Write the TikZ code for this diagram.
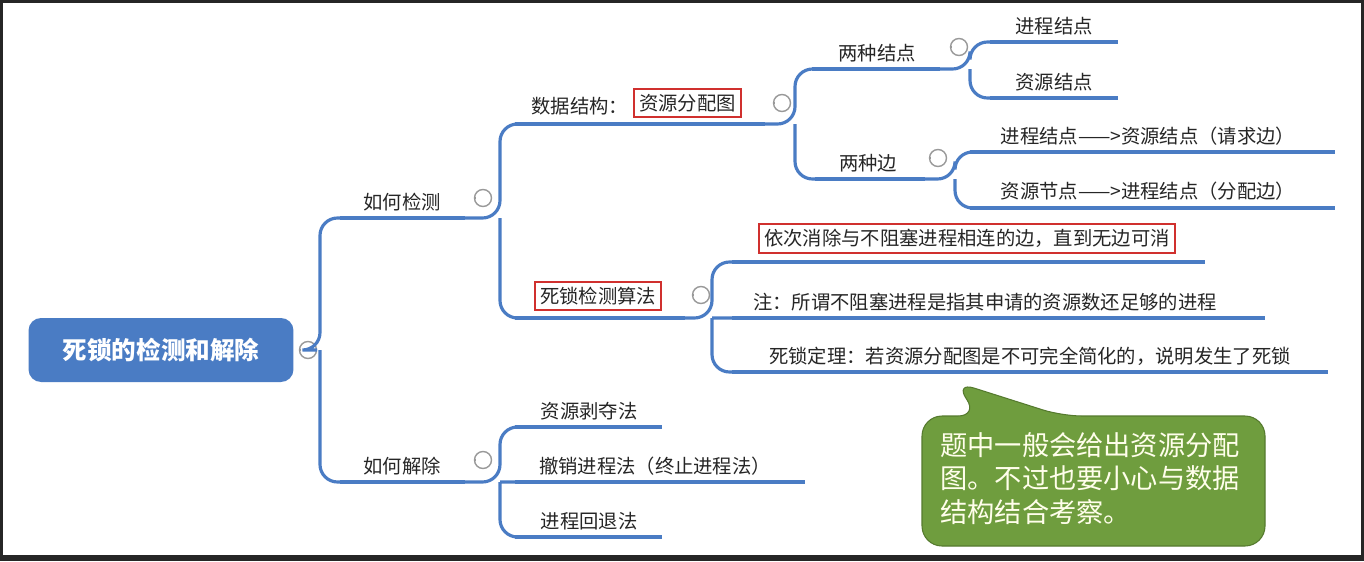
\documentclass[tikz,border=0pt]{standalone}
\usepackage{fontspec}
\setmainfont{Noto Sans CJK SC}
\usetikzlibrary{positioning}
\definecolor{mapblue}{HTML}{4A7CC4}
\definecolor{notegreen}{HTML}{6F9D3E}
\definecolor{noteedge}{HTML}{557A2E}
\definecolor{redbox}{HTML}{D0302E}
\tikzset{
  branch/.style={draw=mapblue,line width=1.8pt,rounded corners=0.35cm},
  topic/.style={font=\fontsize{11}{13}\selectfont,anchor=south,inner sep=2pt,text=black!85},
  fold/.style={circle,draw=gray!80,fill=white,line width=0.8pt,minimum size=0.34cm,inner sep=0pt,
    path picture={\draw[gray!80,line width=0.8pt](path picture bounding box.west)++(0.09,0)--++(0.16,0);}},
  redmark/.style={draw=redbox,line width=0.9pt,inner sep=3pt}
}
\begin{document}
\begin{tikzpicture}[x=0.02cm,y=-0.02cm]
\fill[black!85](0,0) rectangle (1364,561);
\fill[white](3,3) rectangle (1361,555);
\useasboundingbox (0,0) rectangle (1364,561);
% root
\node[fill=mapblue,rounded corners=0.25cm,minimum width=5.3cm,minimum height=1.28cm,text=white,
  font=\fontsize{14}{16}\selectfont\bfseries](root)at(161,350){死锁的检测和解除};
\node[fold](f0)at(308,350){};
% level 1
\coordinate(jc1)at(340,218);\coordinate(jc2)at(465,218);
\coordinate(jj1)at(340,482);\coordinate(jj2)at(465,482);
\draw[branch](f0.east)-|(320,218)--(jc1) (320,350)|-(jj1);
\draw[branch](jc1)--(jc2) (jj1)--(jj2);
\node[topic](jc)at(402,215){如何检测};
\node[topic](jj)at(402,479){如何解除};
\node[fold](f1)at(483,198){};
\node[fold](f2)at(483,460){};
% detection
\coordinate(sj1)at(515,124);\coordinate(sj2)at(765,124);
\coordinate(sf1)at(515,318);\coordinate(sf2)at(685,318);
\draw[branch](jc2)-|(500,124)--(sj1) (500,218)|-(sf1);
\draw[branch](sj1)--(sj2) (sf1)--(sf2);
\node[topic,anchor=south east](sjt)at(632,119){数据结构：};
\node[topic,redmark,anchor=west](zyt)at(633,103){资源分配图};
\node[topic,redmark](sft)at(598,311){死锁检测算法};
\node[fold](f3)at(782,103){};
\node[fold](f4)at(701,295){};
% two kinds
\coordinate(jd1)at(812,69);\coordinate(jd2)at(940,69);
\coordinate(bd1)at(815,179);\coordinate(bd2)at(925,179);
\draw[branch](sj2)-|(795,69)--(jd1) (795,124)|-(bd1);
\draw[branch](jd1)--(jd2) (bd1)--(bd2);
\node[topic](jdt)at(877,66){两种结点};
\node[topic](bdt)at(868,176){两种边};
\node[fold](f5)at(959,47){};
\node[fold](f6)at(938,158){};
\coordinate(pj1)at(990,42);\coordinate(pj2)at(1118,42);
\coordinate(rj1)at(990,98);\coordinate(rj2)at(1118,98);
\draw[branch](jd2)-|(970,42)--(pj1) (970,69)|-(rj1);
\draw[branch](pj1)--(pj2) (rj1)--(rj2);
\node[topic](pjt)at(1054,39){进程结点};
\node[topic](rjt)at(1054,95){资源结点};
\coordinate(qb1)at(970,152);\coordinate(qb2)at(1335,152);
\coordinate(fb1)at(970,208);\coordinate(fb2)at(1335,208);
\draw[branch](bd2)-|(955,152)--(qb1) (955,179)|-(fb1);
\draw[branch](qb1)--(qb2) (fb1)--(fb2);
\node[topic](qbt)at(1148,149){进程结点——>资源结点（请求边）};
\node[topic](fbt)at(1148,204){资源节点——>进程结点（分配边）};
% algorithm
\coordinate(xc1)at(732,262);\coordinate(xc2)at(1205,262);
\coordinate(zs1)at(732,318);\coordinate(zs2)at(1265,318);
\coordinate(dl1)at(732,372);\coordinate(dl2)at(1328,372);
\draw[branch](sf2)-|(712,262)--(xc1) (712,318)|-(dl1) (712,318)--(zs1);
\draw[branch](xc1)--(xc2) (zs1)--(zs2) (dl1)--(dl2);
\node[topic,redmark](xct)at(967,254){依次消除与不阻塞进程相连的边，直到无边可消};
\node[topic](zst)at(985,315){注：所谓不阻塞进程是指其申请的资源数还足够的进程};
\node[topic](dlt)at(1030,369){死锁定理：若资源分配图是不可完全简化的，说明发生了死锁};
% removal
\coordinate(bd1x)at(515,427);\coordinate(bd2x)at(662,427);
\coordinate(cx1)at(515,482);\coordinate(cx2)at(805,482);
\coordinate(ht1)at(515,537);\coordinate(ht2)at(662,537);
\draw[branch](jj2)-|(500,427)--(bd1x) (500,482)|-(ht1) (500,482)--(cx1);
\draw[branch](bd1x)--(bd2x) (cx1)--(cx2) (ht1)--(ht2);
\node[topic](bdx)at(589,424){资源剥夺法};
\node[topic](cxt)at(655,479){撤销进程法（终止进程法）};
\node[topic](htt)at(589,534){进程回退法};
% note
\draw[fill=notegreen,draw=noteedge,line width=0.6pt,rounded corners=0.4cm]
  (922,416)--(978,416)--(955,382)--(1062,416)--(1265,416)--(1265,546)--(922,546)--cycle;
\node[text=white!92!yellow,font=\fontsize{15.5}{19}\selectfont,align=left,anchor=north west,inner sep=0pt]
  (note)at(940,432){题中一般会给出资源分配\\图。不过也要小心与数据\\结构结合考察。};
\end{tikzpicture}
\end{document}
